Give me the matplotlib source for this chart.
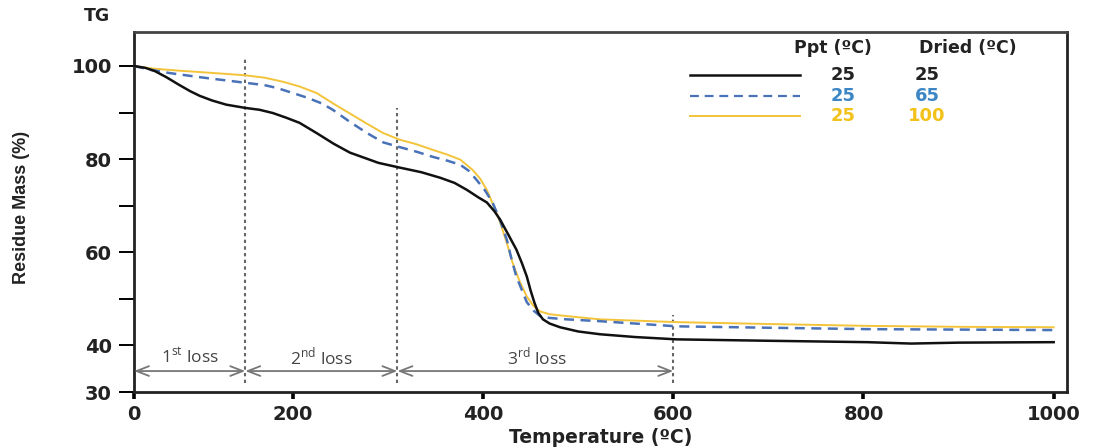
import matplotlib
matplotlib.use("Agg")
import matplotlib.pyplot as plt
from matplotlib.lines import Line2D

# ---- data ----
temp_black = [33, 45, 55, 67, 80, 92, 102, 115, 130, 150, 165, 179, 193, 207, 225, 243, 260, 275, 290, 312, 335, 355, 370, 383, 395,
              404, 412, 418, 426, 435, 441, 446, 450, 454, 458, 463, 470, 481, 500, 523, 560, 604, 700, 804, 850, 900, 1000]
mass_black = [100, 99.6, 98.9, 97.6, 96.0, 94.6, 93.6, 92.6, 91.7, 91.0, 90.6, 89.9, 88.9, 87.8, 85.6, 83.3, 81.4, 80.3, 79.2, 78.2, 77.2, 76.0, 74.9, 73.4, 71.8,
              70.7, 68.8, 67.0, 64.0, 60.6, 57.6, 54.8, 51.8, 49.2, 47.0, 45.6, 44.7, 43.9, 43.0, 42.4, 41.8, 41.3, 41.0, 40.7, 40.4, 40.6, 40.7]

temp_blue = [33, 50, 70, 102, 130, 150, 170, 183, 200, 215, 230, 242, 260, 278, 295, 312, 330, 347, 362, 376, 385, 393, 402,
             410, 418, 425, 430, 435, 441, 446, 453, 460, 470, 488, 523, 604, 700, 804, 900, 1000]
mass_blue = [100, 99.2, 98.5, 97.6, 96.9, 96.4, 95.9, 95.3, 94.2, 93.2, 92.0, 90.6, 88.0, 85.6, 83.6, 82.6, 81.6, 80.5, 79.7, 78.8, 77.5, 75.6, 73.3,
             70.7, 66.8, 62.7, 58.5, 54.8, 51.8, 49.3, 47.5, 46.3, 45.9, 45.6, 45.2, 44.1, 43.8, 43.5, 43.4, 43.3]

temp_yellow = [33, 50, 80, 102, 130, 150, 170, 190, 207, 225, 242, 260, 278, 295, 312, 330, 347, 362, 376, 389, 397, 404,
               411, 418, 425, 431, 438, 446, 453, 460, 470, 488, 523, 604, 700, 804, 900, 1000]
mass_yellow = [100, 99.5, 99.0, 98.7, 98.3, 98.0, 97.5, 96.6, 95.6, 94.2, 92.0, 89.8, 87.6, 85.6, 84.2, 83.2, 82.0, 81.0, 79.9, 77.7, 75.8, 73.4,
               70.0, 66.4, 62.0, 57.8, 54.0, 50.5, 48.5, 47.3, 46.7, 46.3, 45.6, 45.0, 44.6, 44.2, 44.0, 43.9]

loss_bounds = [150, 310, 600]
loss_labels = [r"1$^{\mathregular{st}}$ loss", r"2$^{\mathregular{nd}}$ loss", r"3$^{\mathregular{rd}}$ loss"]

x_tick_labels = ["0", "200", "400", "600", "800", "1000"]
x_tick_values = [200, 400, 600, 800, 1000]
y_tick_values = [30, 40, 50, 60, 70, 80, 90, 100]
y_tick_labels = ["30", "40", "", "60", "", "80", "", "100"]

legend_ppt = ["25", "25", "25"]
legend_dried = ["25", "65", "100"]

# ---- styling ----
c_black = "#111111"
c_blue = "#4a72b8"
c_yellow = "#f3c43a"
c_blue_txt = "#3c86c6"
c_yellow_txt = "#f2c21a"
c_guide = "#666666"

fig = plt.figure(figsize=(10.94, 4.48), dpi=100)
ax = fig.add_axes([134/1094, 1 - 392/448, (1067-134)/1094, (392-32)/448])

x_left = temp_black[0]
ax.set_xlim(x_left, 1014)
ax.set_ylim(30, 107.3)

ax.plot(temp_yellow, mass_yellow, color=c_yellow, lw=1.4, zorder=3)
ax.plot(temp_blue, mass_blue, color=c_blue, lw=1.8, dashes=(4, 2.6), zorder=4)
ax.plot(temp_black, mass_black, color=c_black, lw=1.8, zorder=5)

# vertical guide lines
guide_tops = [101.7, 91.0, 46.5]
for xb, yt in zip(loss_bounds, guide_tops):
    ax.plot([xb, xb], [32, yt], color=c_guide, lw=1.5, dashes=(1.6, 1.6), zorder=2)

# arrows and loss labels
starts = [x_left] + loss_bounds[:-1]
arrow_y = 34.5
for (x0, x1, lab) in zip(starts, loss_bounds, loss_labels):
    ax.annotate("", xy=(x1, arrow_y), xytext=(x0, arrow_y),
                arrowprops=dict(arrowstyle="<->,head_length=0.9,head_width=0.35",
                                color="#777777", lw=1.3, shrinkA=0, shrinkB=0))
label_x = [92, 230, 457]
for lx, lab in zip(label_x, loss_labels):
    ax.text(lx, 37.6, lab, ha="center", va="center", fontsize=12.5,
            family="Open Sans", color="#444444")

# ticks
ax.set_xticks([x_left] + x_tick_values)
ax.set_xticklabels(x_tick_labels)
ax.set_yticks(y_tick_values)
ax.set_yticklabels(y_tick_labels)
ax.tick_params(axis="y", direction="out", length=11, width=1.4, pad=5, labelsize=14)
ax.tick_params(axis="x", direction="out", length=5, width=2.6, pad=4, labelsize=14)
for lab in ax.get_xticklabels() + ax.get_yticklabels():
    lab.set_fontweight("bold")
    lab.set_color("#222222")

for sp in ax.spines.values():
    sp.set_linewidth(2.0)
    sp.set_color("#222222")
ax.spines["top"].set_color("#444444")

ax.set_xlabel("Temperature (ºC)", fontsize=13.5, fontweight="bold", color="#222222", labelpad=3)
fig.text(22/1094, 1 - 207/448, "Residue Mass (%)", rotation=90, ha="center", va="center",
         fontsize=13, fontweight="bold", family=["Liberation Sans", "DejaVu Sans"], color="#222222")
fig.text(97/1094, 1 - 16/448, "TG", ha="center", va="center", fontsize=12.5, fontweight="bold", color="#222222")

# legend (manual table-like layout)
fig.text(833/1094, 1 - 48/448, "Ppt (ºC)", ha="center", va="center", fontsize=12.5, fontweight="bold", color="#222222")
fig.text(968/1094, 1 - 48/448, "Dried (ºC)", ha="center", va="center", fontsize=12.5, fontweight="bold", color="#222222")
row_y = [75, 96, 116]
line_styles = [dict(color=c_black, lw=1.8), dict(color=c_blue, lw=1.6, dashes=(4, 2.6)), dict(color=c_yellow, lw=1.4)]
text_colors = ["#222222", c_blue_txt, c_yellow_txt]
for ry, st, tc, p, d in zip(row_y, line_styles, text_colors, legend_ppt, legend_dried):
    yy = 1 - ry/448
    fig.add_artist(Line2D([690/1094, 800/1094], [yy, yy], transform=fig.transFigure, **st))
    fig.text(843/1094, yy, p, ha="center", va="center", fontsize=13, fontweight="bold", color=tc)
    fig.text(927/1094, yy, d, ha="center", va="center", fontsize=13, fontweight="bold", color=tc)

fig.savefig("out.png", dpi=100)
